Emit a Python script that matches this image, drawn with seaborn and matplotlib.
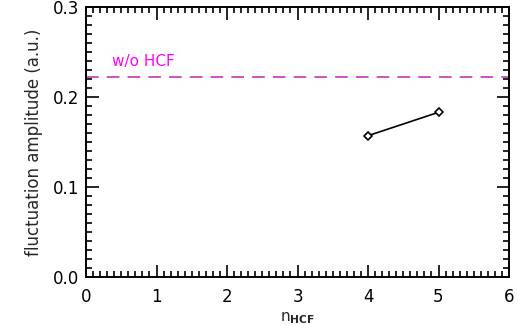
import matplotlib
matplotlib.use("Agg")
import matplotlib.pyplot as plt
import seaborn as sns
import pandas as pd
from matplotlib.ticker import MultipleLocator

n_hcf = [4, 5]
amplitude = [0.157, 0.183]
ref_value = 0.222
ref_label = "w/o HCF"

sns.set_style("ticks")
plt.rcParams['font.family'] = ['DejaVu Sans']

fig = plt.figure(figsize=(5.18, 3.26), dpi=100)
ax = fig.add_axes([86/518, 1-277/326, (509-86)/518, (277-7)/326])

df = pd.DataFrame({"n": n_hcf, "amp": amplitude})
sns.lineplot(data=df, x="n", y="amp", ax=ax, color="black", lw=1.2,
             marker="D", markersize=4.5, markerfacecolor="white",
             markeredgecolor="black", markeredgewidth=1.2)
ax.axhline(ref_value, color="#cc44bb", lw=1.3, dashes=(7, 4.5))
ax.text(0.37, 0.2345, ref_label, color="#ff00ff", fontsize=11)

ax.set_xlim(0, 6)
ax.set_ylim(0, 0.3)
ax.xaxis.set_major_locator(MultipleLocator(1))
ax.xaxis.set_minor_locator(MultipleLocator(0.1))
ax.yaxis.set_major_locator(MultipleLocator(0.1))
ax.yaxis.set_minor_locator(MultipleLocator(0.01))
ax.yaxis.set_major_formatter(matplotlib.ticker.FormatStrFormatter('%.1f'))
ax.tick_params(which='both', direction='in', top=True, right=True,
               width=1.2, colors='black', labelsize=12)
ax.tick_params(which='major', length=9, pad=8)
ax.tick_params(which='minor', length=4.5)
ax.tick_params(axis='y', which='major', pad=5)
for s in ax.spines.values():
    s.set_linewidth(1.4)
    s.set_color('black')
ax.set_xlabel(r"n$_{\mathbf{HCF}}$", fontsize=11, labelpad=3)
ax.set_ylabel("fluctuation amplitude (a.u.)", fontsize=12, labelpad=7)

fig.savefig("out.png", dpi=100)
